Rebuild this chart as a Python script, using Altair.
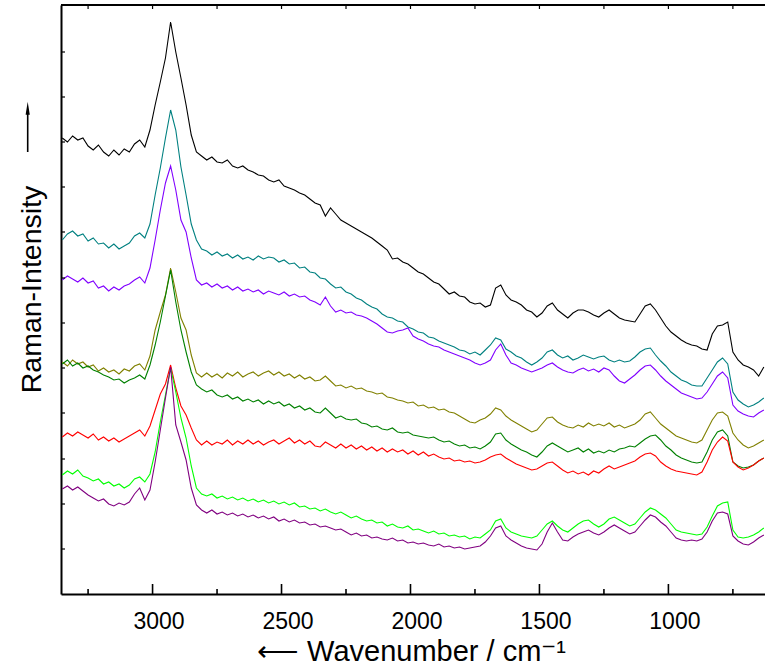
import altair as alt
import pandas as pd

# sampling grid of the spectra (cm-1), 20 cm-1 steps from 3350 down to 630
wavenumber = list(range(3350, 629, -20))

# intensities (arbitrary units, offset traces as drawn)
black = [456,452,458,454,456,448,444,449,442,438,
         444,439,445,442,450,454,447,464,489,512,
         536,572,542,516,489,459,442,438,434,437,
         432,431,434,428,426,428,424,422,419,418,
         414,412,414,408,406,404,401,399,395,391,
         389,378,386,380,374,371,368,365,362,359,
         356,352,348,344,335,336,332,330,326,322,
         320,316,312,310,305,300,302,298,297,292,
         290,291,287,289,306,309,299,294,292,289,
         284,282,277,281,288,291,284,280,276,281,
         284,284,282,279,277,281,284,280,276,274,
         273,272,280,288,290,284,276,268,262,258,
         254,251,249,248,245,244,260,268,269,272,
         242,234,229,227,224,218,227]
teal = [354,360,363,358,360,353,356,350,351,346,
        350,345,348,351,358,361,356,370,399,426,
        456,484,464,427,399,370,354,345,343,339,
        342,338,340,336,339,335,337,334,338,335,
        337,336,332,334,330,331,326,327,322,321,
        316,315,310,306,307,302,300,296,294,290,
        287,285,280,277,276,273,272,267,265,262,
        261,257,256,253,251,249,247,244,243,240,
        242,239,244,249,256,254,245,242,238,236,
        232,229,232,236,242,244,239,236,238,234,
        236,239,237,235,237,238,234,232,234,232,
        233,237,242,245,246,239,233,228,222,218,
        214,212,209,208,208,216,224,232,236,230,
        202,194,190,187,189,192,196]
violet = [314,318,315,312,316,311,313,306,308,303,
          307,304,308,310,314,317,311,326,354,384,
          411,428,404,374,362,336,314,309,311,307,
          310,306,308,304,307,303,305,302,304,300,
          303,301,299,302,298,300,297,298,294,292,
          289,297,288,282,284,281,282,279,278,276,
          273,270,266,262,261,263,264,266,258,255,
          253,250,248,247,244,242,240,238,236,234,
          231,229,231,234,244,250,239,231,229,226,
          224,222,224,226,229,231,227,224,222,221,
          224,226,223,225,222,226,224,218,213,211,
          215,219,224,228,229,224,218,213,209,205,
          201,199,197,195,196,202,210,218,222,216,
          189,183,180,178,177,181,184]
olive = [232,228,234,230,232,227,229,223,226,222,
         224,220,225,223,228,230,224,238,264,282,
         299,326,302,276,264,239,221,217,221,217,
         220,216,221,218,222,217,220,222,218,221,
         223,219,222,218,220,216,219,215,217,213,
         214,218,213,208,209,206,208,205,206,203,
         202,200,201,197,196,194,193,191,192,188,
         189,186,187,184,185,182,181,178,175,172,
         171,174,176,180,186,184,178,174,171,168,
         165,162,164,170,176,177,172,169,167,166,
         169,167,171,168,170,168,171,167,169,166,
         168,170,174,180,182,176,170,166,162,158,
         156,154,152,151,154,164,174,181,182,178,
         161,154,149,146,148,151,154]
green = [230,234,228,231,226,228,224,222,219,217,
         214,215,211,214,216,219,215,229,249,272,
         298,324,292,264,242,222,209,205,202,204,
         199,197,199,195,197,193,195,192,194,190,
         193,190,192,188,190,186,188,184,186,182,
         181,186,181,176,178,175,174,175,171,170,
         167,168,165,164,166,162,161,162,159,158,
         157,156,157,154,152,153,150,148,149,146,
         147,145,148,152,160,161,154,150,147,144,
         142,139,137,142,148,151,148,145,142,144,
         146,142,145,141,143,141,144,142,145,146,
         148,147,151,155,158,159,154,148,144,139,
         136,134,132,131,132,142,154,162,164,158,
         132,128,126,127,129,133,136]
red = [157,161,158,162,159,156,160,154,157,153,
       156,152,155,158,161,164,158,168,184,200,
       210,229,206,188,179,166,154,149,153,149,
       152,150,154,149,153,150,154,150,153,149,
       152,154,150,153,156,151,154,150,153,148,
       147,152,149,146,150,146,149,145,148,144,
       147,143,146,142,145,142,144,140,143,139,
       142,138,140,137,135,136,133,134,132,133,
       131,132,134,137,139,140,136,133,130,128,
       126,124,125,128,131,132,128,124,121,123,
       120,122,119,123,121,125,128,125,127,129,
       131,133,137,140,141,138,132,128,125,123,
       122,121,120,119,122,132,144,152,157,153,
       132,127,124,126,129,133,136]
lime = [119,123,120,124,118,116,113,115,110,112,
        108,110,106,109,115,117,112,120,142,172,
        199,226,202,176,156,128,106,100,98,100,
        96,98,95,97,94,96,93,95,92,94,
        91,93,90,92,89,91,87,88,85,86,
        83,85,82,80,82,79,76,78,75,73,
        74,71,72,68,70,67,66,68,64,65,
        63,61,63,60,61,58,59,57,58,55,
        57,56,60,64,73,75,66,62,60,58,
        57,56,58,64,70,73,68,64,62,66,
        70,73,74,70,67,70,75,77,74,71,
        68,70,76,82,86,84,80,76,70,64,
        62,61,60,59,60,67,78,88,91,92,
        64,57,56,57,59,62,66]
purple = [105,108,104,107,103,99,96,93,95,90,
          88,91,89,92,100,106,94,104,132,164,
          196,227,169,152,134,106,89,84,81,84,
          80,82,79,81,78,80,77,79,76,78,
          75,77,73,75,72,74,71,72,69,70,
          67,68,66,64,65,62,59,61,58,59,
          56,57,55,54,56,53,54,51,52,50,
          51,49,48,50,47,48,46,47,45,46,
          47,48,52,58,66,68,58,54,51,48,
          46,45,44,50,62,71,62,54,53,57,
          60,62,64,61,59,62,66,69,66,63,
          60,62,68,74,79,77,72,68,62,56,
          54,53,54,53,55,62,73,81,82,80,
          58,53,50,49,52,56,59]

series_names = ["1", "2", "3", "4", "5", "6", "7", "8"]
series_colors = ["#000000", "#008080", "#8000FF", "#808000",
                 "#008000", "#FF0000", "#00FF00", "#800080"]
series_values = [black, teal, violet, olive, green, red, lime, purple]

x_major = [3000, 2500, 2000, 1500, 1000]
x_minor = [3250, 2750, 2250, 1750, 1250, 750]
x_top = [3250, 3000, 2750, 2500, 2250, 2000, 1750, 1500, 1250, 1000, 750]
y_ticks = [45, 90, 135, 181, 226, 271, 316, 362, 407, 452, 497, 542]

rows = []
for name, vals in zip(series_names, series_values):
    assert len(vals) == len(wavenumber), (name, len(vals))
    for i, (w, v) in enumerate(zip(wavenumber, vals)):
        rows.append({"w": w, "v": v, "s": name, "k": i})
df = pd.DataFrame(rows)

W, H = 704, 589
FONT = "Liberation Sans"
xscale = alt.Scale(domain=[625.5, 3355], reverse=True, nice=False, zero=False)
yscale = alt.Scale(domain=[0, 589], nice=False, zero=False)

lines = alt.Chart(df).mark_line(strokeWidth=1.1, clip=True).encode(
    x=alt.X("w:Q", scale=xscale,
            axis=alt.Axis(values=x_major, format="d", tickSize=0, labelPadding=16,
                          labelOffset=6, labelFontSize=23, labelFont=FONT,
                          labelColor="black", domainColor="black", domainWidth=2,
                          grid=False, title="\u27F5 Wavenumber / cm\u207B\u00B9",
                          titleFont=FONT, titleFontSize=29, titleFontWeight="normal",
                          titleColor="black", titleX=350, titleY=66,
                          titleBaseline="alphabetic", titleAlign="center")),
    y=alt.Y("v:Q", scale=yscale,
            axis=alt.Axis(labels=False, ticks=False, grid=False, domainColor="black",
                          domainWidth=2, title="Raman-Intensity",
                          titleFont=FONT, titleFontSize=28.5, titleFontWeight="normal",
                          titleColor="black", titleX=-21, titleY=284, titleAngle=270,
                          titleBaseline="alphabetic", titleAlign="center")),
    color=alt.Color("s:N", scale=alt.Scale(domain=series_names, range=series_colors),
                    legend=None),
    order="k:Q",
)

major_ticks = alt.Chart(pd.DataFrame({"w": x_major})).mark_rule(
    color="black", strokeWidth=1.6).encode(
    x=alt.X("w:Q", scale=xscale), y=alt.value(H), y2=alt.value(H - 10))
minor_ticks = alt.Chart(pd.DataFrame({"w": x_minor})).mark_rule(
    color="black", strokeWidth=1.6).encode(
    x=alt.X("w:Q", scale=xscale), y=alt.value(H), y2=alt.value(H - 5))
top_ticks = alt.Chart(pd.DataFrame({"w": x_top})).mark_rule(
    color="black", strokeWidth=1.2).encode(
    x=alt.X("w:Q", scale=xscale), y=alt.value(0), y2=alt.value(4))
left_ticks = alt.Chart(pd.DataFrame({"v": y_ticks})).mark_rule(
    color="black", strokeWidth=1.2).encode(
    y=alt.Y("v:Q", scale=yscale), x=alt.value(0), x2=alt.value(4))
top_border = alt.Chart(pd.DataFrame({"a": [0]})).mark_rule(
    color="black", strokeWidth=2).encode(
    x=alt.value(0), x2=alt.value(W), y=alt.value(0))

# upward arrow that belongs to the y-axis title
arrow_shaft = alt.Chart(pd.DataFrame({"a": [0]})).mark_rule(
    color="black", strokeWidth=1.6).encode(
    x=alt.value(-33.3), y=alt.value(147), y2=alt.value(106))
arrow_head = alt.Chart(pd.DataFrame({"a": [0]})).mark_point(
    shape="M0,-1L0.32,1L-0.32,1Z", filled=True, color="black", opacity=1,
    size=169, strokeWidth=0).encode(
    x=alt.value(-33.3), y=alt.value(103.2))

chart = alt.layer(lines, major_ticks, minor_ticks, top_ticks, left_ticks, top_border,
                  arrow_shaft, arrow_head).properties(
    width=W, height=H,
    padding={"left": 61, "top": 5, "right": 0, "bottom": 72},
    autosize=alt.AutoSizeParams(type="none"),
    background="white",
).configure_view(stroke=None)

chart.save("out.html", embed_options={"renderer": "svg", "actions": False})
